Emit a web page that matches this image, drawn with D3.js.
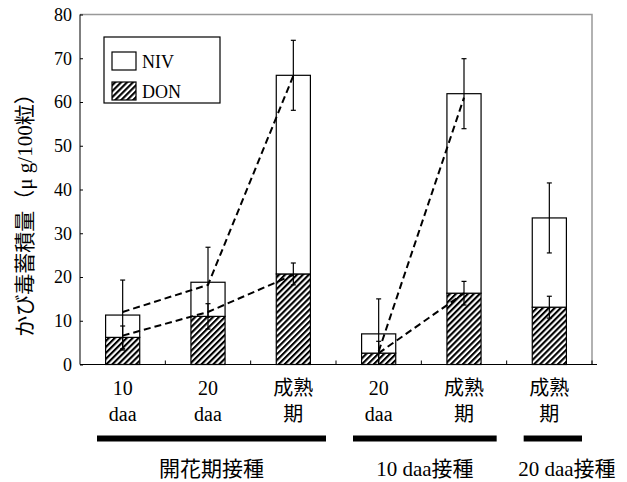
<!DOCTYPE html>
<html>
<head>
<meta charset="utf-8">
<script src="https://cdn.jsdelivr.net/npm/d3@7"></script>
<style>
  body { margin: 0; background: #fff; }
  text { font-family: "Liberation Serif", "Noto Sans CJK JP", serif; fill: #000; }
</style>
</head>
<body>
<div class="canvas"></div>
<script>
// data
const catTop = ['10', '20', '成熟', '20', '成熟', '成熟'];
const catBottom = ['daa', 'daa', '期', 'daa', '期', '期'];
const totals = [11.3, 18.8, 66.1, 7.0, 61.9, 33.5];   // NIV + DON
const don = [6.2, 11.0, 20.7, 2.6, 16.3, 13.1];
const totalErr = [8.0, 8.0, 8.0, 8.0, 8.0, 8.0];
const donErr = [2.6, 2.9, 2.5, 2.7, 2.7, 2.5];
const yTicks = [0, 10, 20, 30, 40, 50, 60, 70, 80];

// dashed trend lines: category index + value
const trendNiv1 = [[0, 12.0], [1, 18.2], [2, 66.0]];
const trendDon1 = [[0, 6.6], [1, 12.0], [2, 20.5]];
const trendNiv2 = [[3, 3.0], [4, 61.0]];
const trendDon2 = [[3, 2.6], [4, 16.3]];

const groups = [
  { label: '開花期接種', first: 0, last: 2 },
  { label: '10 daa接種', first: 3, last: 4 },
  { label: '20 daa接種', first: 5, last: 5 }
];

const width = 627, height = 482;
const svg = d3.select('.canvas')
  .append('svg')
  .attr('width', width)
  .attr('height', height);

const defs = svg.append('defs');
const pat = defs.append('pattern')
  .attr('id', 'hatch')
  .attr('patternUnits', 'userSpaceOnUse')
  .attr('width', 4.2)
  .attr('height', 4.2)
  .attr('patternTransform', 'rotate(45)');
pat.append('rect').attr('width', 4.2).attr('height', 4.2).attr('fill', '#fff');
pat.append('rect').attr('width', 2.1).attr('height', 4.2).attr('fill', '#000');

const pLeft = 80, pRight = 592, pTop = 14.5, pBottom = 364.5;

const x = d3.scaleBand()
  .domain(d3.range(catTop.length))
  .range([pLeft, pRight])
  .paddingInner(0.6)
  .paddingOuter(0.3);
const step = x.step();
const cx = i => x(i) + x.bandwidth() / 2;

const y = d3.scaleLinear()
  .domain([0, 80])
  .range([pBottom, pTop]);

// frame (grey top and right)
svg.append('path')
  .attr('d', `M${pLeft},${pTop}H${pRight}V${pBottom}`)
  .attr('fill', 'none')
  .attr('stroke', '#999')
  .attr('stroke-width', 1.5);

// y axis
const yAxis = d3.axisLeft(y).tickValues(yTicks).tickSize(-3).tickPadding(8);
const yG = svg.append('g').attr('transform', `translate(${pLeft},0)`).call(yAxis);
yG.attr('font-family', null);
yG.select('.domain').attr('d', `M0,${pTop}V${pBottom}`).attr('stroke', '#000');
yG.selectAll('text').attr('font-size', 18);

// x axis (ticks at category boundaries)
const bounds = d3.range(1, catTop.length + 1).map(i => pLeft + i * step);
svg.append('line')
  .attr('x1', pLeft).attr('x2', pRight + 5)
  .attr('y1', pBottom).attr('y2', pBottom)
  .attr('stroke', '#000').attr('stroke-width', 1.2);
svg.selectAll('.xtick')
  .data(bounds)
  .enter().append('line')
  .attr('x1', d => d).attr('x2', d => d)
  .attr('y1', pBottom).attr('y2', pBottom - 4)
  .attr('stroke', '#000');

// bars: DON (hatched) then NIV (white) on top
const idx = d3.range(catTop.length);
svg.selectAll('.don')
  .data(idx)
  .enter().append('rect')
  .attr('x', i => x(i))
  .attr('y', i => y(don[i]))
  .attr('width', x.bandwidth())
  .attr('height', i => y(0) - y(don[i]))
  .attr('fill', 'url(#hatch)')
  .attr('stroke', '#000')
  .attr('stroke-width', 1.2);

svg.selectAll('.niv')
  .data(idx)
  .enter().append('rect')
  .attr('x', i => x(i))
  .attr('y', i => y(totals[i]))
  .attr('width', x.bandwidth())
  .attr('height', i => y(don[i]) - y(totals[i]))
  .attr('fill', '#fff')
  .attr('stroke', '#000')
  .attr('stroke-width', 1.2);

// error bars
function errBar(vals, errs) {
  const g = svg.append('g').attr('stroke', '#000').attr('stroke-width', 1.2);
  idx.forEach(i => {
    const hi = y(vals[i] + errs[i]);
    const lo = y(Math.max(0, vals[i] - errs[i]));
    const c = cx(i);
    g.append('line').attr('x1', c).attr('x2', c).attr('y1', hi).attr('y2', lo);
    g.append('line').attr('x1', c - 2.5).attr('x2', c + 2.5).attr('y1', hi).attr('y2', hi);
    if (vals[i] - errs[i] > 0)
      g.append('line').attr('x1', c - 2.5).attr('x2', c + 2.5).attr('y1', lo).attr('y2', lo);
  });
}
errBar(totals, totalErr);
errBar(don, donErr);

// dashed lines
const line = d3.line().x(d => cx(d[0])).y(d => y(d[1]));
[trendNiv1, trendDon1, trendNiv2, trendDon2].forEach(t => {
  svg.append('path')
    .attr('d', line(t))
    .attr('fill', 'none')
    .attr('stroke', '#000')
    .attr('stroke-width', 2)
    .attr('stroke-dasharray', '7,4');
});

// category labels
svg.selectAll('.cat1')
  .data(idx)
  .enter().append('text')
  .attr('x', i => cx(i))
  .attr('y', 395)
  .attr('text-anchor', 'middle')
  .attr('font-size', 20)
  .text(i => catTop[i]);
svg.selectAll('.cat2')
  .data(idx)
  .enter().append('text')
  .attr('x', i => cx(i))
  .attr('y', 421)
  .attr('text-anchor', 'middle')
  .attr('font-size', 20)
  .text(i => catBottom[i]);

// group bars and labels
const groupLabelDx = [0, 0, 14];
groups.forEach((g, k) => {
  const x0 = pLeft + g.first * step + 17;
  const x1 = pLeft + (g.last + 1) * step - 10;
  svg.append('rect')
    .attr('x', x0).attr('y', 435.5)
    .attr('width', x1 - x0).attr('height', 6)
    .attr('fill', '#000');
  svg.append('text')
    .attr('x', (x0 + x1) / 2 + groupLabelDx[k])
    .attr('y', 476)
    .attr('text-anchor', 'middle')
    .attr('font-size', 21)
    .text(g.label);
});

// y axis title
svg.append('text')
  .attr('transform', 'translate(32,210) rotate(-90)')
  .attr('text-anchor', 'middle')
  .attr('font-size', 21)
  .text('かび毒蓄積量（μ g/100粒）');

// legend
const lg = svg.append('g');
lg.append('rect')
  .attr('x', 104).attr('y', 37).attr('width', 116).attr('height', 66)
  .attr('fill', '#fff').attr('stroke', '#000').attr('stroke-width', 1.2);
const legendItems = [['NIV', '#fff'], ['DON', 'url(#hatch)']];
legendItems.forEach((d, i) => {
  lg.append('rect')
    .attr('x', 112).attr('y', 52 + i * 30).attr('width', 24).attr('height', 18)
    .attr('fill', d[1]).attr('stroke', '#000').attr('stroke-width', 1.2);
  lg.append('text')
    .attr('x', 142).attr('y', 68 + i * 30)
    .attr('font-size', 18)
    .text(d[0]);
});
</script>
</body>
</html>
